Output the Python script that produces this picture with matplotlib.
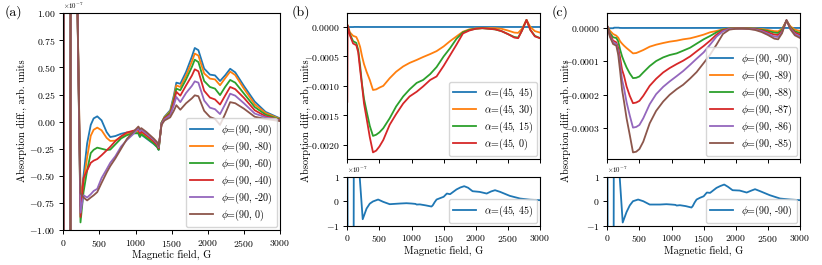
import matplotlib
matplotlib.use('Agg')
import matplotlib.pyplot as plt
from matplotlib.ticker import MultipleLocator

plt.rcParams['font.family'] = 'serif'
plt.rcParams['font.serif'] = ['cmr10', 'DejaVu Serif']
plt.rcParams['mathtext.fontset'] = 'cm'
plt.rcParams['axes.formatter.use_mathtext'] = True
plt.rcParams['axes.unicode_minus'] = True

# ---- panel (a): phi scan, values in units of 1e-7 ----
xa = [0, 8, 95, 105, 185, 195, 238, 280, 330, 380, 420, 470, 530, 600, 650, 720,
      800, 880, 960, 1040, 1060, 1080, 1150, 1250, 1300, 1320, 1360, 1400, 1480,
      1530, 1565, 1620, 1700, 1780, 1820, 1870, 1950, 2030, 2100, 2170, 2240,
      2310, 2380, 2500, 2650, 2800, 3000]
a_m90 = [8, -8, -8, 8, 8, 1.1, -0.78, -0.50, -0.20, -0.03, 0.03, 0.049, 0.012, -0.096,
         -0.142, -0.133, -0.112, -0.10, -0.10, -0.11, -0.14, -0.12, -0.155, -0.205,
         -0.235, -0.26, -0.01, 0.045, 0.105, 0.24, 0.36, 0.35, 0.46, 0.60, 0.68, 0.66,
         0.49, 0.434, 0.427, 0.375, 0.427, 0.488, 0.455, 0.33, 0.185, 0.09, 0.03]
a_m80 = [8, -8, -8, 8, 8, 1.1, -0.68, -0.56, -0.33, -0.13, -0.075, -0.055, -0.08, -0.15,
         -0.178, -0.175, -0.14, -0.115, -0.105, -0.09, -0.12, -0.10, -0.14, -0.19,
         -0.225, -0.255, -0.01, 0.04, 0.095, 0.22, 0.335, 0.32, 0.425, 0.555, 0.628, 0.61,
         0.445, 0.397, 0.39, 0.336, 0.40, 0.462, 0.43, 0.305, 0.16, 0.08, 0.025]
a_m60 = [8, -8, -8, 8, 8, 1.1, -0.93, -0.65, -0.45, -0.29, -0.26, -0.24, -0.25, -0.262,
         -0.258, -0.21, -0.155, -0.125, -0.11, -0.105, -0.14, -0.115, -0.15, -0.20,
         -0.235, -0.26, -0.01, 0.035, 0.085, 0.20, 0.305, 0.29, 0.39, 0.505, 0.572, 0.55,
         0.375, 0.32, 0.305, 0.245, 0.32, 0.385, 0.36, 0.26, 0.135, 0.065, 0.02]
a_m40 = [8, -8, -8, 8, 8, 1.1, -0.88, -0.52, -0.45, -0.38, -0.36, -0.345, -0.31, -0.265,
         -0.232, -0.18, -0.135, -0.10, -0.085, -0.075, -0.11, -0.09, -0.125, -0.18,
         -0.215, -0.245, -0.02, 0.03, 0.07, 0.18, 0.275, 0.24, 0.335, 0.425, 0.483, 0.465,
         0.285, 0.222, 0.205, 0.158, 0.24, 0.32, 0.30, 0.22, 0.105, 0.05, 0.015]
a_m20 = [8, -8, -8, 8, 8, 1.1, -0.84, -0.68, -0.70, -0.67, -0.64, -0.62, -0.52, -0.44,
         -0.38, -0.32, -0.23, -0.17, -0.12, -0.06, -0.09, -0.075, -0.11, -0.165,
         -0.20, -0.235, -0.02, 0.02, 0.06, 0.15, 0.228, 0.18, 0.265, 0.33, 0.372, 0.36,
         0.195, 0.129, 0.115, 0.07, 0.16, 0.258, 0.24, 0.17, 0.075, 0.04, 0.01]
a_0 = [8, -8, -8, 8, 8, 1.1, -0.66, -0.70, -0.727, -0.70, -0.68, -0.65, -0.565, -0.47,
       -0.41, -0.34, -0.25, -0.16, -0.10, -0.045, -0.07, -0.06, -0.095, -0.155,
       -0.19, -0.225, -0.03, 0.01, 0.04, 0.10, 0.152, 0.11, 0.17, 0.215, 0.243, 0.235,
       0.10, 0.043, 0.025, -0.03, 0.07, 0.18, 0.17, 0.12, 0.045, 0.025, 0.005]
a_series = [a_m90, a_m80, a_m60, a_m40, a_m20, a_0]
a_labels = [r'$\phi$=(90, -90)', r'$\phi$=(90, -80)', r'$\phi$=(90, -60)',
            r'$\phi$=(90, -40)', r'$\phi$=(90, -20)', r'$\phi$=(90, 0)']

# ---- panels (b) and (c): main plots ----
xm = [0, 5, 40, 90, 140, 170, 200, 230, 260, 300, 350, 400, 450, 500, 560, 660, 760,
      870, 970, 1080, 1180, 1290, 1390, 1500, 1600, 1700, 1800, 1900, 2000, 2100,
      2200, 2300, 2400, 2500, 2600, 2660, 2720, 2790, 2850, 2920, 3000]
# (b), units of 1e-4
b_30 = [0.3, 0.3, -0.9, -1.5, -1.7, -2.4, -3.4, -5.0, -6.3, -7.6, -9.0, -10.7, -10.6,
        -10.3, -10.0, -8.7, -7.6, -6.7, -6.1, -5.6, -5.1, -4.6, -4.1, -3.3, -2.4, -1.6,
        -0.8, -0.4, -0.25, -0.2, -0.2, -0.2, -0.3, -0.6, -0.95, -1.0, -0.3, 1.2, 0.0,
        -0.7, -0.95]
b_15 = [0.3, 0.2, -1.2, -2.4, -2.7, -3.9, -6.6, -9.8, -12.2, -14.3, -16.8, -18.5, -18.3,
        -17.9, -17.2, -15.5, -13.5, -11.8, -10.6, -9.5, -9.0, -8.0, -6.8, -5.0, -3.6,
        -2.0, -0.9, -0.5, -0.3, -0.2, -0.3, -0.4, -0.7, -1.2, -1.7, -1.8, -0.6, 1.2,
        -0.5, -1.5, -1.9]
b_0 = [-12.7, 0.3, -1.4, -2.8, -3.1, -4.3, -7.3, -10.0, -13.0, -15.5, -18.7, -21.3,
       -21.0, -20.3, -19.2, -16.6, -14.8, -13.0, -11.8, -11.0, -10.1, -9.0, -8.4, -6.6,
       -4.8, -3.0, -1.1, -0.6, -0.3, -0.2, -0.3, -0.4, -0.7, -1.2, -1.8, -1.9, -0.6,
       1.2, -0.5, -1.6, -1.9]
# (c), units of 1e-5
c_89 = [0.5, 0.4, -0.8, -1.8, -2.3, -2.9, -4.0, -4.7, -5.3, -6.0, -6.8, -7.6, -7.5,
        -7.1, -6.6, -5.6, -5.0, -4.5, -4.1, -3.8, -3.4, -3.1, -2.6, -2.0, -1.3, -0.9,
        -0.4, -0.15, -0.05, -0.1, -0.1, -0.15, -0.3, -0.6, -0.95, -1.0, -0.3, 2.2,
        0.5, -0.5, -0.9]
c_88 = [0.5, 0.3, -1.5, -2.8, -3.0, -4.0, -6.5, -8.5, -10.0, -11.8, -13.6, -15.0,
        -14.9, -14.5, -13.3, -11.4, -9.9, -8.8, -8.1, -7.6, -6.8, -5.9, -4.7, -3.4,
        -2.4, -1.3, -0.5, -0.2, -0.1, -0.1, -0.15, -0.25, -0.5, -0.9, -1.4, -1.5,
        -0.6, 2.2, 0.2, -1.0, -1.5]
c_87 = [0.5, 0.3, -2.0, -3.8, -4.3, -6.0, -9.0, -12.5, -14.3, -17.5, -20.3, -22.5,
        -22.3, -21.8, -20.3, -17.3, -15.2, -13.3, -12.0, -10.8, -9.8, -8.5, -7.0,
        -5.4, -3.8, -2.0, -0.7, -0.25, -0.15, -0.15, -0.2, -0.35, -0.7, -1.3, -2.0,
        -2.1, -1.0, 2.2, 0.0, -1.4, -2.0]
c_86 = [0.5, 0.3, -2.4, -4.3, -4.8, -7.0, -11.0, -15.5, -18.0, -22.2, -26.2, -29.8,
        -29.6, -29.0, -27.0, -22.8, -19.8, -17.6, -16.0, -14.4, -12.9, -11.0, -9.2,
        -7.3, -5.0, -2.6, -1.0, -0.3, -0.2, -0.2, -0.25, -0.45, -0.9, -1.7, -2.6,
        -2.7, -1.3, 2.3, -0.2, -1.8, -2.5]
c_85 = [0.5, 0.3, -2.6, -4.8, -5.3, -8.0, -13.0, -18.5, -22.0, -27.0, -32.0, -37.2,
        -37.0, -36.2, -34.0, -28.5, -24.8, -22.0, -20.0, -18.3, -17.0, -15.1, -13.2,
        -10.5, -8.0, -5.0, -1.8, -0.5, -0.25, -0.2, -0.3, -0.6, -1.2, -2.1, -3.2,
        -3.4, -1.6, 2.4, -0.4, -2.2, -3.0]

# ---- reference curves in the small panels, units of 1e-7 ----
xs = [0, 8, 95, 105, 180, 190, 240, 300, 350, 400, 480, 560, 660, 820, 920, 1000,
      1060, 1080, 1130, 1220, 1310, 1330, 1360, 1390, 1440, 1500, 1550, 1600, 1700,
      1760, 1820, 1880, 1950, 2060, 2170, 2240, 2300, 2380, 2530, 2690, 2850, 3000]
ref_b = [8, -8, -8, 8, 8, 1.1, -0.735, -0.30, -0.10, -0.01, 0.068, -0.027, -0.122,
         -0.095, -0.082, -0.095, -0.11, -0.136, -0.13, -0.17, -0.218, -0.17, -0.04,
         0.068, 0.12, 0.18, 0.313, 0.286, 0.48, 0.56, 0.612, 0.55, 0.408, 0.38, 0.313,
         0.40, 0.449, 0.38, 0.218, 0.109, 0.06, 0.041]
ref_c = [8, -8, -8, 8, 8, 1.1, -0.87, -0.44, -0.17, 0.0, 0.068, 0.0, -0.136, -0.136,
         -0.122, -0.136, -0.15, -0.177, -0.163, -0.20, -0.258, -0.20, -0.05, 0.068,
         0.136, 0.20, 0.354, 0.34, 0.544, 0.62, 0.68, 0.585, 0.449, 0.435, 0.354,
         0.43, 0.49, 0.408, 0.245, 0.109, 0.068, 0.041]

b_series = [b_30, b_15, b_0]
b_labels = [r'$\alpha$=(45, 45)', r'$\alpha$=(45, 30)', r'$\alpha$=(45, 15)', r'$\alpha$=(45, 0)']
c_series = [c_89, c_88, c_87, c_86, c_85]
c_labels = [r'$\phi$=(90, -90)', r'$\phi$=(90, -89)', r'$\phi$=(90, -88)',
            r'$\phi$=(90, -87)', r'$\phi$=(90, -86)', r'$\phi$=(90, -85)']

colors = plt.rcParams['axes.prop_cycle'].by_key()['color']
W, H = 822, 265
fs_tick = 7
fs_lab = 7.5
fs_leg = 7.2
ylab = 'Absorption diff., arb. units'
leg_kw = dict(loc='lower right', fontsize=fs_leg, borderaxespad=0.3,
              labelspacing=0.17, handlelength=2.3, borderpad=0.4)


def box(l, t, r, b):
    return [l / W, 1 - b / H, (r - l) / W, (b - t) / H]


def style(ax):
    ax.tick_params(labelsize=fs_tick, length=3, width=0.7, pad=2.5)
    ax.yaxis.get_offset_text().set_fontsize(5)
    for s in ax.spines.values():
        s.set_linewidth(0.8)


fig = plt.figure(figsize=(W / 100, H / 100), dpi=100)

# (a)
ax = fig.add_axes(box(63.3, 13.3, 280, 230))
for y, lab, c in zip(a_series, a_labels, colors):
    ax.plot(xa, [v * 1e-7 for v in y], color=c, lw=1.3, label=lab)
ax.set_xlim(0, 3000)
ax.set_ylim(-1e-7, 1e-7)
ax.yaxis.set_major_locator(MultipleLocator(0.25e-7))
ax.set_xlabel('Magnetic field, G', fontsize=fs_lab, labelpad=1)
ax.legend(**leg_kw)
style(ax)
fig.text((63.3 - 41.6) / W, 1 - 121 / H, ylab, rotation=90, ha='center', va='center',
         fontsize=fs_lab)
fig.text(5 / W, 1 - 12 / H, '(a)', fontsize=10, va='center')


def panel(left, main, mlabels, scale, ref, rlabel, tag):
    ax1 = fig.add_axes(box(left, 13.3, left + 192.7, 159))
    ax2 = fig.add_axes(box(left, 176.7, left + 192.7, 225.7))
    ax1.plot(xs, [v * 1e-7 for v in ref], color=colors[0], lw=1.3, label=mlabels[0])
    for i, y in enumerate(main):
        ax1.plot(xm, [v * scale for v in y], color=colors[i + 1], lw=1.3, label=mlabels[i + 1])
    ax1.set_xlim(0, 3000)
    ax1.xaxis.set_major_locator(MultipleLocator(500))
    ax1.tick_params(labelbottom=False)
    ax1.legend(**leg_kw)
    ax2.plot(xs, [v * 1e-7 for v in ref], color=colors[0], lw=1.3, label=rlabel)
    ax2.set_xlim(0, 3000)
    ax2.set_ylim(-1e-7, 1e-7)
    ax2.yaxis.set_major_locator(MultipleLocator(1e-7))
    ax2.set_xlabel('Magnetic field, G', fontsize=fs_lab, labelpad=1)
    ax2.legend(**leg_kw)
    style(ax1)
    style(ax2)
    fig.text((left - 41.6) / W, 1 - 121 / H, ylab, rotation=90, ha='center', va='center',
             fontsize=fs_lab)
    fig.text((left - 56) / W, 1 - 12 / H, tag, fontsize=10, va='center')


panel(347.3, b_series, b_labels, 1e-4, ref_b, r'$\alpha$=(45, 45)', '(b)')
panel(607.3, c_series, c_labels, 1e-5, ref_c, r'$\phi$=(90, -90)', '(c)')

fig.savefig('out.png', dpi=100)
